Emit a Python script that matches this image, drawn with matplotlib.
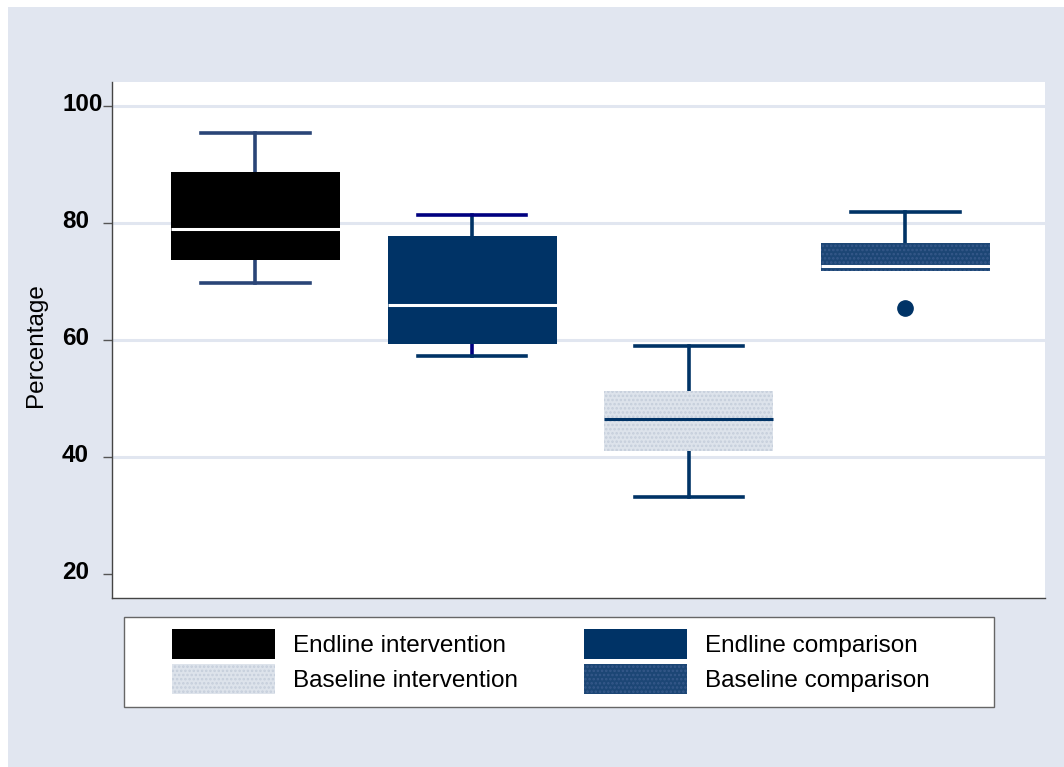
import matplotlib.pyplot as plt
from matplotlib.patches import Patch, Rectangle
from matplotlib.transforms import ScaledTranslation

plt.rcParams['font.family'] = ['Liberation Sans', 'DejaVu Sans']
plt.rcParams['hatch.linewidth'] = 1.2

# box summaries read as percentages
groups = ['Endline intervention', 'Endline comparison', 'Baseline intervention', 'Baseline comparison']
upper_whisker = [95.3, 81.4, 58.9, 81.9]
q3 = [88.8, 77.8, 51.3, 76.5]
median = [78.9, 66.0, 46.5, 72.7]
q1 = [73.6, 59.4, 41.0, 71.8]
lower_whisker = [69.7, 57.3, 33.2, 71.8]
outliers = [[], [], [], [65.4]]
yticks = [20, 40, 60, 80, 100]

bg = '#e1e6f0'
navy = '#003366'
face = ['#000000', navy, '#dde3eb', '#1c4675']
hatch = [None, None, '....', '....']
hatch_col = ['#000000', navy, '#c5cedb', '#36598a']
med_col = ['white', 'white', navy, 'white']
whisk_col = ['#2a4577', navy, navy, navy]

fig = plt.figure(figsize=(10.64, 7.67), dpi=100)
fig.patch.set_facecolor('white')
fig.add_artist(Rectangle((8 / 1064, 0), 1, 1 - 7 / 767, transform=fig.transFigure,
                         facecolor=bg, edgecolor='none', zorder=-5))

ax = fig.add_axes([112 / 1064, 1 - 598 / 767, 933 / 1064, 516 / 767])
ax.set_facecolor('white')

stats = []
for i, g in enumerate(groups):
    stats.append({'label': g, 'whislo': lower_whisker[i], 'q1': q1[i], 'med': median[i],
                  'q3': q3[i], 'whishi': upper_whisker[i], 'fliers': outliers[i]})

bp = ax.bxp(stats, positions=[1, 2, 3, 4], widths=0.78, patch_artist=True,
            showfliers=True, capwidths=0.5)

for i, box in enumerate(bp['boxes']):
    box.set_facecolor(face[i])
    box.set_edgecolor(hatch_col[i])
    box.set_linewidth(0)
    if hatch[i]:
        box.set_hatch(hatch[i])
    box.set_zorder(3)
for i, m in enumerate(bp['medians']):
    m.set_color(med_col[i])
    m.set_linewidth(2.2)
    m.set_zorder(4)
for i, w in enumerate(bp['whiskers']):
    w.set_color(whisk_col[i // 2])
    w.set_linewidth(2.6)
for i, c in enumerate(bp['caps']):
    c.set_color(whisk_col[i // 2])
    c.set_linewidth(2.6)
# endline comparison: upper cap and lower stem drawn in plain navy
bp['caps'][3].set_color('#000080')
bp['whiskers'][2].set_color('#000080')
# baseline comparison: lower adjacent value sits on the box edge
bp['whiskers'][6].set_visible(False)
bp['caps'][6].set_visible(False)
for f in bp['fliers']:
    f.set_marker('o')
    f.set_markerfacecolor(navy)
    f.set_markeredgecolor(navy)
    f.set_markersize(11)

ax.set_xlim(0.338, 4.644)
ax.set_ylim(15.9, 104.1)
ax.set_xticks([])
ax.set_yticks(yticks)
ax.set_yticklabels([str(t) for t in yticks], fontsize=17.5, fontweight='bold')
ax.tick_params(axis='y', length=6.5, width=1, color='#555555', pad=29.5)
lift = ScaledTranslation(0, 4 / 100, fig.dpi_scale_trans)
for lbl in ax.get_yticklabels():
    lbl.set_horizontalalignment('left')
    lbl.set_transform(lbl.get_transform() + lift)

ax.yaxis.grid(True, color=bg, linewidth=2.2)
ax.get_ygridlines()[0].set_visible(False)
ax.set_axisbelow(True)

for s in ['top', 'right']:
    ax.spines[s].set_visible(False)
for s in ['left', 'bottom']:
    ax.spines[s].set_color('#444444')
    ax.spines[s].set_linewidth(1)

ax.set_ylabel('Percentage', fontsize=17.5)
ax.yaxis.set_label_coords(-0.0696, 0.49)

# legend box
fig.add_artist(Rectangle((124 / 1064, 1 - 707 / 767), 870 / 1064, 90 / 767,
                         transform=fig.transFigure, facecolor='white',
                         edgecolor='#666666', linewidth=1, zorder=1))
handles = []
for i, g in enumerate(groups):
    handles.append(Patch(facecolor=face[i], edgecolor=hatch_col[i], linewidth=0,
                         hatch=hatch[i], label=g))
order = [0, 2, 1, 3]
fig.legend([handles[k] for k in order], [groups[k] for k in order], ncol=2,
           loc='upper left', bbox_to_anchor=(172 / 1064, 1 - 629 / 767),
           bbox_transform=fig.transFigure, frameon=False, fontsize=17.5,
           borderpad=0, borderaxespad=0, handlelength=4.24, handleheight=1.5,
           handletextpad=0.74, labelspacing=0.22, columnspacing=2.7)

fig.savefig('out.png', dpi=100)
